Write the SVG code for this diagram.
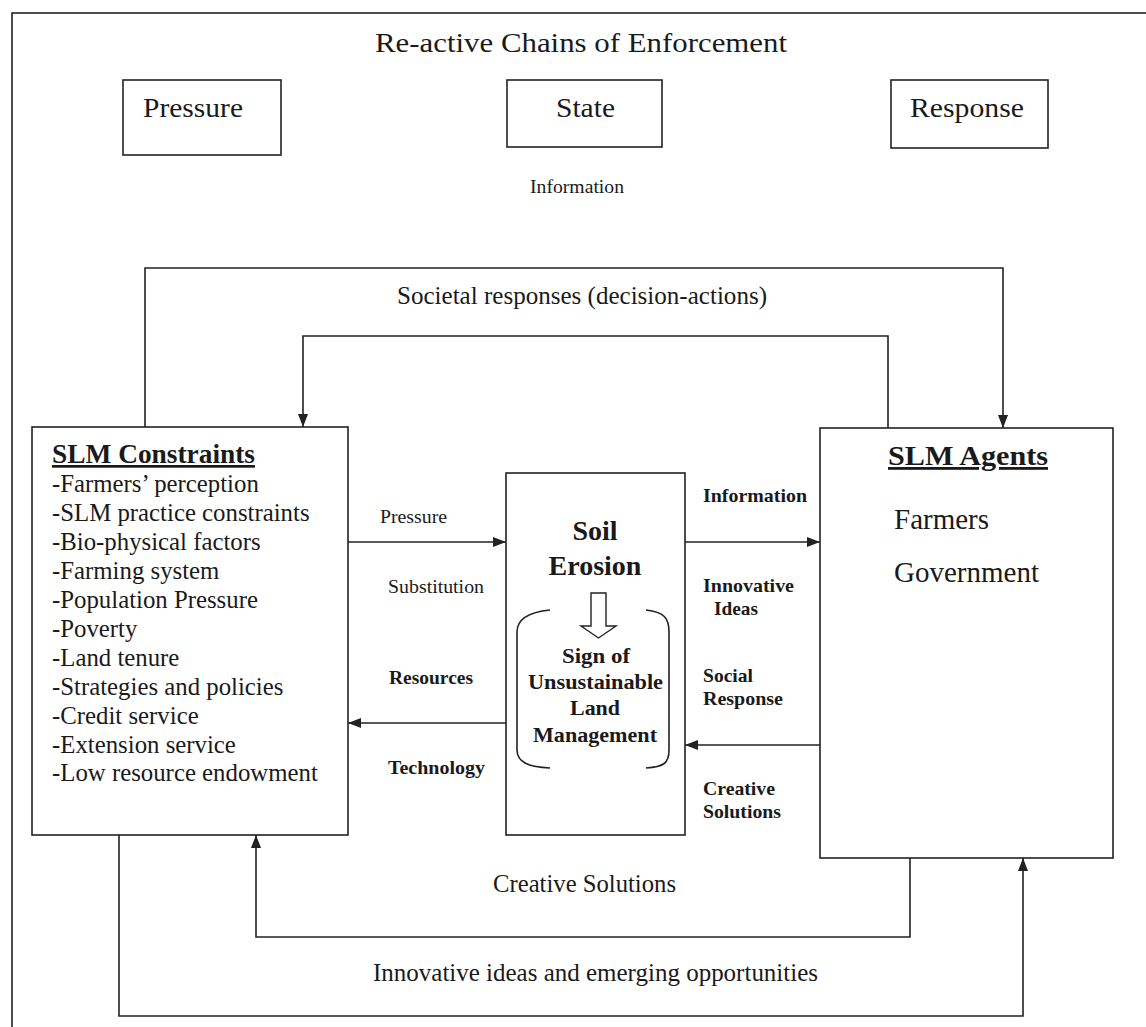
<svg xmlns="http://www.w3.org/2000/svg" width="1146" height="1027" viewBox="0 0 1146 1027">
<style>
.box{fill:#fff;stroke:#222;stroke-width:1.6}
.ln{fill:none;stroke:#222;stroke-width:1.6}
.t{font-family:"Liberation Serif","Times New Roman",serif;fill:#1a1a1a}
.b{font-weight:bold}
.m{text-anchor:middle}
</style>
<defs>
<marker id="ah" viewBox="0 0 13 10" refX="13" refY="5" markerWidth="13" markerHeight="10" markerUnits="userSpaceOnUse" orient="auto">
<path d="M0,0 L13,5 L0,10 z" fill="#222"/>
</marker>
</defs>
<rect x="0" y="0" width="1146" height="1027" fill="#fff"/>
<rect x="12" y="13" width="1160" height="1040" class="ln"/>

<text class="t m" x="581" y="52" font-size="28" textLength="412" lengthAdjust="spacingAndGlyphs">Re-active Chains of Enforcement</text>

<g id="pressure-box">
<rect x="123" y="80" width="158" height="75" class="box"/>
<text class="t" x="143" y="117" font-size="27" textLength="100" lengthAdjust="spacingAndGlyphs">Pressure</text>
</g>
<g id="state-box">
<rect x="507" y="80" width="155" height="67" class="box"/>
<text class="t" x="556" y="117" font-size="27" textLength="59" lengthAdjust="spacingAndGlyphs">State</text>
</g>
<g id="response-box">
<rect x="891" y="80" width="157" height="68" class="box"/>
<text class="t" x="910" y="117" font-size="27" textLength="114" lengthAdjust="spacingAndGlyphs">Response</text>
</g>
<text class="t" x="530" y="193" font-size="18" textLength="94" lengthAdjust="spacingAndGlyphs">Information</text>

<g id="connectors">
<polyline class="ln" points="145,427 145,268 1003,268 1003,428" marker-end="url(#ah)"/>
<polyline class="ln" points="888,428 888,336 303,336 303,427" marker-end="url(#ah)"/>
<line class="ln" x1="348" y1="542" x2="506" y2="542" marker-end="url(#ah)"/>
<line class="ln" x1="506" y1="723" x2="348" y2="723" marker-end="url(#ah)"/>
<line class="ln" x1="685" y1="542" x2="820" y2="542" marker-end="url(#ah)"/>
<line class="ln" x1="820" y1="745" x2="685" y2="745" marker-end="url(#ah)"/>
<polyline class="ln" points="910,858 910,937 256,937 256,835" marker-end="url(#ah)"/>
<polyline class="ln" points="119,835 119,1016 1023,1016 1023,858" marker-end="url(#ah)"/>
</g>
<text class="t" x="397" y="304" font-size="25" textLength="370" lengthAdjust="spacingAndGlyphs">Societal responses (decision-actions)</text>
<text class="t" x="380" y="523" font-size="19" textLength="67" lengthAdjust="spacingAndGlyphs">Pressure</text>
<text class="t" x="388" y="593" font-size="19" textLength="96" lengthAdjust="spacingAndGlyphs">Substitution</text>
<text class="t b" x="389" y="684" font-size="19" textLength="84" lengthAdjust="spacingAndGlyphs">Resources</text>
<text class="t b" x="388" y="774" font-size="19" textLength="97" lengthAdjust="spacingAndGlyphs">Technology</text>
<text class="t b" x="703" y="502" font-size="19" textLength="104" lengthAdjust="spacingAndGlyphs">Information</text>
<text class="t b" x="703" y="592" font-size="19" textLength="91" lengthAdjust="spacingAndGlyphs">Innovative</text>
<text class="t b" x="714" y="615" font-size="19" textLength="44" lengthAdjust="spacingAndGlyphs">Ideas</text>
<text class="t b" x="703" y="682" font-size="19" textLength="50" lengthAdjust="spacingAndGlyphs">Social</text>
<text class="t b" x="703" y="705" font-size="19" textLength="80" lengthAdjust="spacingAndGlyphs">Response</text>
<text class="t b" x="703" y="795" font-size="19" textLength="72" lengthAdjust="spacingAndGlyphs">Creative</text>
<text class="t b" x="703" y="818" font-size="19" textLength="78" lengthAdjust="spacingAndGlyphs">Solutions</text>
<text class="t" x="493" y="892" font-size="25" textLength="183" lengthAdjust="spacingAndGlyphs">Creative Solutions</text>
<text class="t" x="373" y="981" font-size="25" textLength="445" lengthAdjust="spacingAndGlyphs">Innovative ideas and emerging opportunities</text>

<g id="slm-constraints">
<rect x="32" y="427" width="316" height="408" class="box"/>
<text class="t b" x="52" y="463" font-size="27" textLength="203" lengthAdjust="spacingAndGlyphs" text-decoration="underline">SLM Constraints</text>
<g class="t" font-size="24.8">
<text x="52" y="492">-Farmers’ perception</text>
<text x="52" y="521">-SLM practice constraints</text>
<text x="52" y="550">-Bio-physical factors</text>
<text x="52" y="579">-Farming system</text>
<text x="52" y="608">-Population Pressure</text>
<text x="52" y="637">-Poverty</text>
<text x="52" y="666">-Land tenure</text>
<text x="52" y="695">-Strategies and policies</text>
<text x="52" y="724">-Credit service</text>
<text x="52" y="753">-Extension service</text>
<text x="52" y="781">-Low resource endowment</text>
</g>
</g>

<g id="soil-erosion">
<rect x="506" y="473" width="179" height="362" class="box"/>
<text class="t b m" x="595" y="540" font-size="28">Soil</text>
<text class="t b m" x="595" y="575" font-size="28">Erosion</text>
<path d="M591,593 L606,593 L606,626 L616,626 L598.5,638 L581,626 L591,626 Z" fill="#fff" stroke="#222" stroke-width="1.4"/>
<path d="M550,610 C530,612 517,618 517,632 L517,750 C517,763 530,767 550,768" class="ln"/>
<path d="M646,610 C664,612 669,618 669,632 L669,750 C669,763 664,767 646,768" class="ln"/>
<text class="t b" x="562" y="663" font-size="20" textLength="68" lengthAdjust="spacingAndGlyphs">Sign of</text>
<text class="t b" x="528" y="689" font-size="20" textLength="135" lengthAdjust="spacingAndGlyphs">Unsustainable</text>
<text class="t b" x="570" y="715" font-size="20" textLength="50" lengthAdjust="spacingAndGlyphs">Land</text>
<text class="t b" x="533" y="742" font-size="20" textLength="124" lengthAdjust="spacingAndGlyphs">Management</text>
</g>

<g id="slm-agents">
<rect x="820" y="428" width="293" height="430" class="box"/>
<text class="t b" x="888" y="465" font-size="28" textLength="160" lengthAdjust="spacingAndGlyphs" text-decoration="underline">SLM Agents</text>
<text class="t" x="894" y="529" font-size="29">Farmers</text>
<text class="t" x="894" y="582" font-size="29">Government</text>
</g>
</svg>
